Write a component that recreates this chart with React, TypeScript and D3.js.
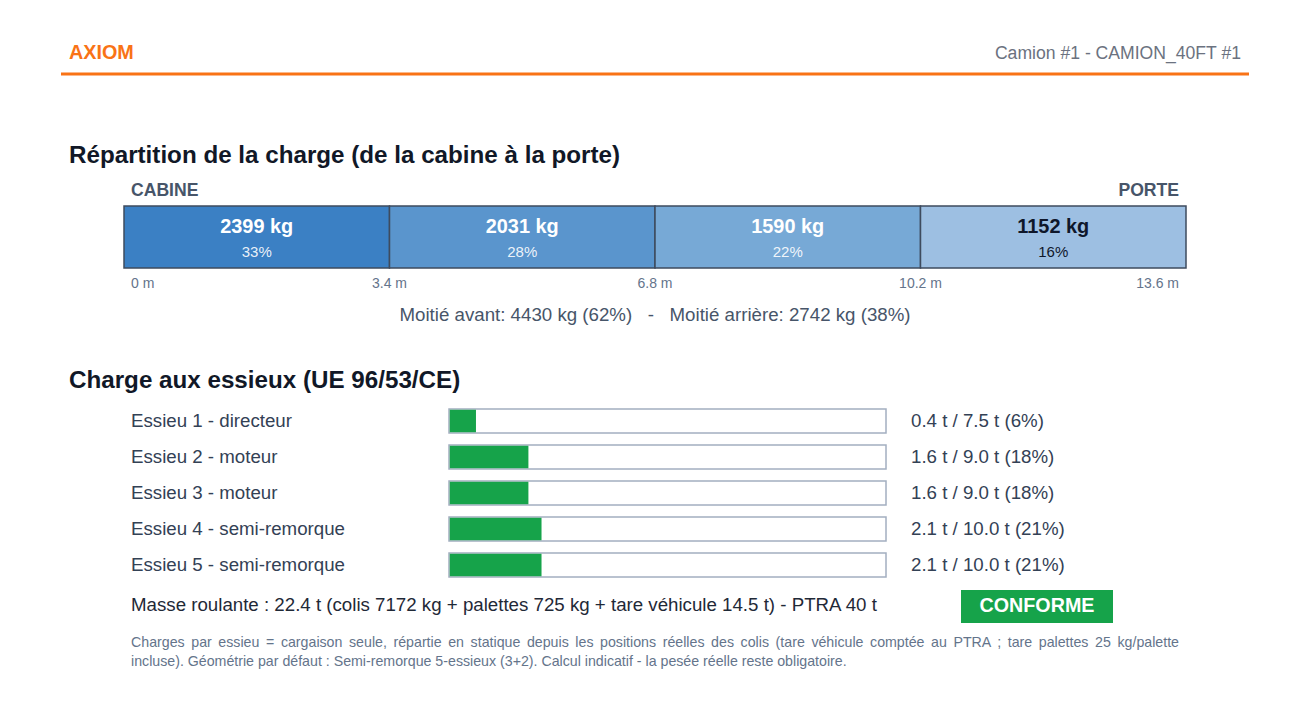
import React, { useEffect, useRef } from "react";
import * as d3 from "d3";

const segmentKg = [2399, 2031, 1590, 1152];
const segmentPct = [33, 28, 22, 16];
const segmentColors = ["#3b80c4", "#5a95cd", "#77a9d6", "#9dbfe2"];
const segmentTextColors = ["#ffffff", "#ffffff", "#ffffff", "#0f172a"];
const lengthTicks = [0, 3.4, 6.8, 10.2, 13.6];
const axleNames = ["Essieu 1 - directeur", "Essieu 2 - moteur", "Essieu 3 - moteur", "Essieu 4 - semi-remorque", "Essieu 5 - semi-remorque"];
const axleLoadT = [0.4, 1.6, 1.6, 2.1, 2.1];
const axleMaxT = [7.5, 9.0, 9.0, 10.0, 10.0];
const axlePct = [6, 18, 18, 21, 21];

const FONT = "'Liberation Sans', Arial, Helvetica, sans-serif";
const W = 1311, H = 710;

export default function App() {
  const ref = useRef<SVGSVGElement>(null);
  useEffect(() => {
    const svg = d3.select(ref.current);
    svg.selectAll("*").remove();
    svg.attr("font-family", FONT);

    // Header
    svg.append("text").attr("x", 69).attr("y", 59).attr("font-size", 19.8).attr("font-weight", "bold").attr("fill", "#f97316").text("AXIOM");
    svg.append("text").attr("x", 1241).attr("y", 58.5).attr("text-anchor", "end").attr("font-size", 17.6).attr("fill", "#6b7280").text("Camion #1 - CAMION_40FT #1");
    svg.append("rect").attr("x", 61).attr("y", 72.5).attr("width", 1188).attr("height", 3).attr("fill", "#f97316");

    // Section 1
    svg.append("text").attr("x", 69).attr("y", 163).attr("font-size", 24.2).attr("font-weight", "bold").attr("fill", "#111827").text("Répartition de la charge (de la cabine à la porte)");
    svg.append("text").attr("x", 131).attr("y", 196).attr("font-size", 17.6).attr("font-weight", "bold").attr("fill", "#475569").text("CABINE");
    svg.append("text").attr("x", 1179).attr("y", 196).attr("text-anchor", "end").attr("font-size", 17.6).attr("font-weight", "bold").attr("fill", "#475569").text("PORTE");

    const x = d3.scaleLinear().domain([0, 13.6]).range([124, 1186]);
    const y0 = 206, bh = 62;
    const segs = segmentKg.map((kg, i) => ({ kg, pct: segmentPct[i], x0: lengthTicks[i], x1: lengthTicks[i + 1], i }));
    const g = svg.append("g");
    g.selectAll("rect.seg").data(segs).enter().append("rect")
      .attr("x", d => x(d.x0)).attr("y", y0).attr("width", d => x(d.x1) - x(d.x0)).attr("height", bh)
      .attr("fill", d => segmentColors[d.i]).attr("stroke", "#3e4b5e").attr("stroke-width", 1.5);
    g.selectAll("text.kg").data(segs).enter().append("text")
      .attr("x", d => (x(d.x0) + x(d.x1)) / 2).attr("y", 233).attr("text-anchor", "middle")
      .attr("font-size", 19.9).attr("font-weight", "bold").attr("fill", d => segmentTextColors[d.i]).text(d => `${d.kg} kg`);
    g.selectAll("text.pct").data(segs).enter().append("text")
      .attr("x", d => (x(d.x0) + x(d.x1)) / 2).attr("y", 256.5).attr("text-anchor", "middle")
      .attr("font-size", 15).attr("fill", d => segmentTextColors[d.i]).attr("fill-opacity", d => d.i < 3 ? 0.9 : 1).text(d => `${d.pct}%`);

    svg.append("g").selectAll("text").data(lengthTicks).enter().append("text")
      .attr("x", (d, i) => i === 0 ? x(d) + 7 : i === lengthTicks.length - 1 ? x(d) - 7 : x(d))
      .attr("y", 288)
      .attr("text-anchor", (d, i) => i === 0 ? "start" : i === lengthTicks.length - 1 ? "end" : "middle")
      .attr("font-size", 14).attr("fill", "#64748b").text(d => `${d} m`);

    const total = d3.sum(segmentKg);
    const front = segmentKg[0] + segmentKg[1];
    const rear = segmentKg[2] + segmentKg[3];
    svg.append("text").attr("x", 655).attr("y", 321).attr("text-anchor", "middle").attr("font-size", 18.7).attr("fill", "#475569")
      .attr("xml:space", "preserve")
      .text(`Moitié avant: ${front} kg (${Math.round(front / total * 100)}%)   -   Moitié arrière: ${rear} kg (${Math.round(rear / total * 100)}%)`);

    // Section 2
    svg.append("text").attr("x", 69).attr("y", 388).attr("font-size", 24.2).attr("font-weight", "bold").attr("fill", "#111827").text("Charge aux essieux (UE 96/53/CE)");

    const yRow = d3.scaleBand<number>().domain(d3.range(axleNames.length)).range([403, 583]).padding(0);
    const xa = d3.scaleLinear().domain([0, 100]).range([449, 886]);
    const rows = svg.append("g").selectAll("g").data(axleNames.map((n, i) => ({ n, i }))).enter().append("g")
      .attr("transform", d => `translate(0,${yRow(d.i)! + yRow.bandwidth() / 2})`);
    rows.append("text").attr("x", 131).attr("y", 6).attr("font-size", 18.7).attr("fill", "#334155").text(d => d.n);
    rows.append("rect").attr("x", xa(0)).attr("y", -12).attr("width", xa(100) - xa(0)).attr("height", 24)
      .attr("fill", "#ffffff").attr("stroke", "#a3aec0").attr("stroke-width", 1.5);
    rows.append("rect").attr("x", xa(0) + 0.75).attr("y", -11.25).attr("width", d => xa(axlePct[d.i]) - xa(0)).attr("height", 22.5)
      .attr("fill", "#16a34a");
    rows.append("text").attr("x", 911).attr("y", 6).attr("font-size", 18.7).attr("fill", "#334155")
      .text(d => `${axleLoadT[d.i].toFixed(1)} t / ${axleMaxT[d.i].toFixed(1)} t (${axlePct[d.i]}%)`);

    svg.append("text").attr("x", 131).attr("y", 611).attr("font-size", 18.7).attr("fill", "#1f2937")
      .text("Masse roulante : 22.4 t (colis 7172 kg + palettes 725 kg + tare véhicule 14.5 t) - PTRA 40 t");
    svg.append("rect").attr("x", 961).attr("y", 590).attr("width", 152).attr("height", 33).attr("fill", "#16a34a");
    svg.append("text").attr("x", 1037).attr("y", 612).attr("text-anchor", "middle").attr("font-size", 19.7).attr("font-weight", "bold").attr("fill", "#ffffff").text("CONFORME");

    // Footnote (justified first line)
    const line1 = "Charges par essieu = cargaison seule, répartie en statique depuis les positions réelles des colis (tare véhicule comptée au PTRA ; tare palettes 25 kg/palette";
    const line2 = "incluse). Géométrie par défaut : Semi-remorque 5-essieux (3+2). Calcul indicatif - la pesée réelle reste obligatoire.";
    const t1 = svg.append("text").attr("x", 131).attr("y", 647).attr("font-size", 14.2).attr("fill", "#64748b").text(line1);
    const natural = (t1.node() as SVGTextElement).getComputedTextLength();
    const gaps = line1.split(" ").length - 1;
    const extra = (1179 - 131 - natural) / gaps;
    if (extra > 0) t1.style("word-spacing", `${extra}px`);
    svg.append("text").attr("x", 131).attr("y", 666).attr("font-size", 14.2).attr("fill", "#64748b").text(line2);
  }, []);
  return <svg ref={ref} width={W} height={H} style={{ position: "absolute", left: 0, top: 0, background: "#fff" }} />;
}
